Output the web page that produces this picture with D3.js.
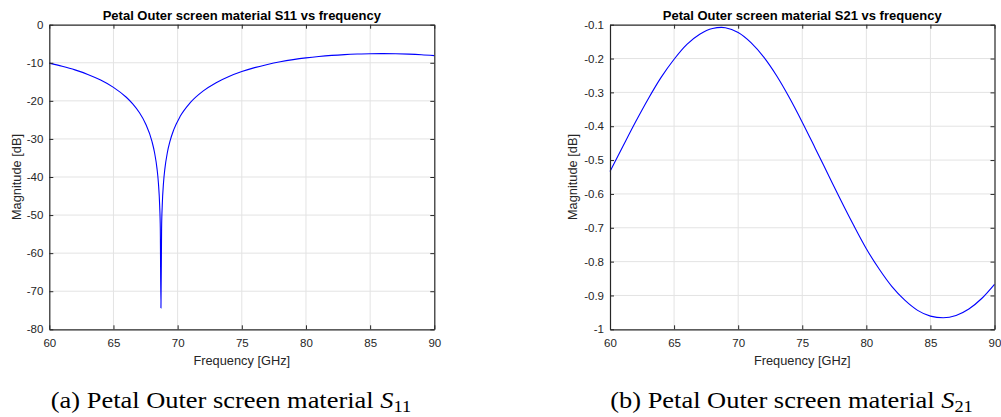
<!DOCTYPE html>
<html>
<head>
<meta charset="utf-8">
<script src="https://d3js.org/d3.v7.min.js"></script>
<style>
  body { margin: 0; background: #fff; }
  svg { display: block; }
</style>
</head>
<body>
<svg id="chart" width="1001" height="417"></svg>
<script>
// Frequency tick labels shared by both panels
const freqTicks = [60, 65, 70, 75, 80, 85, 90];

// S11 magnitude (dB)
const s11Freq = [60, 61, 62, 63, 64, 65, 66, 66.5, 67, 67.5, 68, 68.2, 68.4, 68.5, 68.6, 68.65, 68.7,
                 68.75, 68.8, 68.9, 69, 69.2, 69.4, 69.7, 70.2, 71, 72, 73, 74, 75, 76, 77, 78, 79,
                 80, 81, 82, 83, 84, 85, 86, 87, 88, 89, 90];
const s11Mag = [-10.1, -10.92, -11.87, -13.05, -14.53, -16.45, -19.06, -20.79, -22.99, -26.0, -30.65, -33.57, -38.0, -41.5, -47.55, -53.6, -74.4,
                -53.6, -47.55, -41.5, -38.0, -33.57, -30.65, -27.57, -24.07, -20.42, -17.39, -15.23, -13.6, -12.31, -11.27, -10.43, -9.74, -9.18,
                -8.72, -8.35, -8.06, -7.85, -7.71, -7.62, -7.6, -7.64, -7.74, -7.9, -8.13];
const s11Ticks = [-80, -70, -60, -50, -40, -30, -20, -10, 0];

// S21 magnitude (dB)
const s21Freq = [60, 61, 62, 63, 64, 65, 66, 67, 68, 68.7, 69, 70, 71, 72, 73, 74, 75, 76, 77, 78, 79, 80,
                 81, 82, 83, 84, 85, 86, 87, 88, 89, 90];
const s21Mag = [-0.534, -0.46, -0.387, -0.318, -0.255, -0.202, -0.158, -0.128, -0.111, -0.108, -0.109, -0.123, -0.153, -0.196,
                -0.251, -0.316, -0.388, -0.464, -0.541, -0.618, -0.692, -0.762, -0.822, -0.874, -0.914, -0.944, -0.961, -0.966,
                -0.959, -0.94, -0.909, -0.867];
const s21Ticks = [-1, -0.9, -0.8, -0.7, -0.6, -0.5, -0.4, -0.3, -0.2, -0.1];

const titles = ["Petal Outer screen material S11 vs frequency", "Petal Outer screen material S21 vs frequency"];
const captionLabels = ["(a) Petal Outer screen material ", "(b) Petal Outer screen material "];
const captionSubs = ["11", "21"];

const svg = d3.select("#chart");
const sans = "'Liberation Sans', Arial, Helvetica, sans-serif";
const serif = "'Liberation Serif', 'Times New Roman', serif";
const plotTop = 24.7, plotBottom = 329.3;

const panels = [
  { left: 49.3, right: 434.3, freq: s11Freq, mag: s11Mag, ticks: s11Ticks, domain: [-80, 0], ylabX: 17, capX: 231 },
  { left: 610, right: 994.5, freq: s21Freq, mag: s21Mag, ticks: s21Ticks, domain: [-1, -0.1], ylabX: 573, capX: 791.5 }
];

panels.forEach((p, i) => {
  const x = d3.scaleLinear().domain([60, 90]).range([p.left, p.right]);
  const y = d3.scaleLinear().domain(p.domain).range([plotBottom, plotTop]);
  const g = svg.append("g");

  // grid
  g.selectAll(".gx").data(freqTicks.slice(1, -1)).enter().append("line")
    .attr("x1", d => x(d)).attr("x2", d => x(d)).attr("y1", plotTop).attr("y2", plotBottom)
    .attr("stroke", "#e3e3e3").attr("stroke-width", 1);
  g.selectAll(".gy").data(p.ticks.slice(1, -1)).enter().append("line")
    .attr("x1", p.left).attr("x2", p.right).attr("y1", d => y(d)).attr("y2", d => y(d))
    .attr("stroke", "#e3e3e3").attr("stroke-width", 1);

  // curve
  const line = d3.line().x((d, k) => x(p.freq[k])).y(d => y(d)).curve(d3.curveMonotoneX);
  g.append("path").datum(p.mag).attr("fill", "none").attr("stroke", "#0000ff")
    .attr("stroke-width", 1.1).attr("d", line);

  // axes (ticks inward, box on)
  const fmt = d => String(d);
  g.append("g").attr("transform", `translate(0,${plotBottom})`)
    .call(d3.axisBottom(x).tickValues(freqTicks).tickFormat(fmt).tickSizeInner(-4).tickSizeOuter(0).tickPadding(10));
  g.append("g").attr("transform", `translate(${p.left},0)`)
    .call(d3.axisLeft(y).tickValues(p.ticks).tickFormat(fmt).tickSizeInner(-4).tickSizeOuter(0).tickPadding(6));
  g.append("g").attr("transform", `translate(0,${plotTop})`)
    .call(d3.axisTop(x).tickValues(freqTicks).tickFormat("").tickSizeInner(-4).tickSizeOuter(0));
  g.append("g").attr("transform", `translate(${p.right},0)`)
    .call(d3.axisRight(y).tickValues(p.ticks).tickFormat("").tickSizeInner(-4).tickSizeOuter(0));

  g.selectAll(".domain").attr("stroke", "#262626").attr("stroke-width", 1.2);
  g.selectAll(".tick line").attr("stroke", "#262626");
  g.selectAll(".tick text").attr("fill", "#262626").style("font-family", sans).style("font-size", "11.5px");

  // title
  g.append("text").attr("x", (p.left + p.right) / 2).attr("y", 19.5)
    .attr("text-anchor", "middle").style("font-family", sans).style("font-size", "13px")
    .style("font-weight", "bold").attr("fill", "#000").text(titles[i]);

  // axis labels
  g.append("text").attr("x", (p.left + p.right) / 2).attr("y", 364.5)
    .attr("text-anchor", "middle").style("font-family", sans).style("font-size", "12.8px")
    .attr("fill", "#262626").text("Frequency [GHz]");
  g.append("text").attr("transform", `translate(${p.ylabX},${(plotTop + plotBottom) / 2}) rotate(-90)`)
    .attr("text-anchor", "middle").attr("dy", "0.35em").style("font-family", sans).style("font-size", "12.8px")
    .attr("fill", "#262626").text("Magnitude [dB]");

  // caption
  const cap = g.append("text").attr("transform", `translate(${p.capX},408) scale(1.15,1)`)
    .attr("text-anchor", "middle")
    .style("font-family", serif).style("font-size", "23px").attr("fill", "#000");
  cap.append("tspan").text(captionLabels[i]);
  cap.append("tspan").style("font-style", "italic").text("S");
  cap.append("tspan").attr("dy", 4).style("font-size", "16px").text(captionSubs[i]);
});
</script>
</body>
</html>
